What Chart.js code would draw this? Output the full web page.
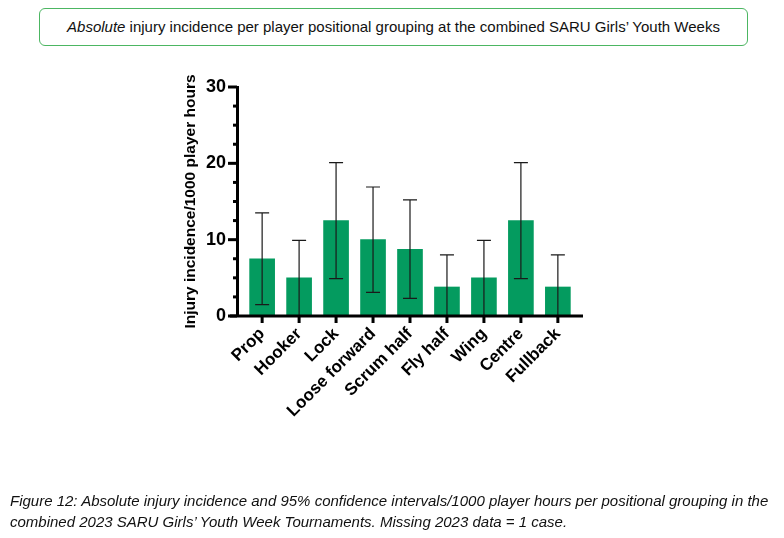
<!DOCTYPE html>
<html>
<head>
    <style>
        body, html {
            margin: 0;
            width: 784px;
            height: 538px;
            background: #fff;
            overflow: hidden;
        }
        #title {
            position: absolute;
            left: 39px;
            top: 8px;
            width: 707px;
            height: 36px;
            border: 1.5px solid #4cb662;
            border-radius: 6px;
            font-family: "Liberation Sans", Arial, sans-serif;
            font-size: 15px;
            line-height: 36px;
            text-align: center;
            color: #111;
        }
        #caption {
            position: absolute;
            left: 10px;
            top: 490px;
            font-family: "Liberation Sans", Arial, sans-serif;
            font-style: italic;
            font-size: 15px;
            line-height: 21px;
            color: #111;
            white-space: nowrap;
        }
        #chart {
            position: absolute;
            left: 0;
            top: 0;
        }
    </style>
    <script src="https://cdn.jsdelivr.net/npm/chart.js"></script>
</head>
<body>
    <div id="title"><i>Absolute</i> injury incidence per player positional grouping at the combined SARU Girls’ Youth Weeks</div>
    <canvas id="chart" width="784" height="538"></canvas>
    <div id="caption">Figure 12: Absolute injury incidence and 95% confidence intervals/1000 player hours per positional grouping in the<br>combined 2023 SARU Girls’ Youth Week Tournaments. Missing 2023 data = 1 case.</div>

    <script>
        const positions = ["Prop", "Hooker", "Lock", "Loose forward", "Scrum half", "Fly half", "Wing", "Centre", "Fullback"];
        const incidence = [7.5, 5.0, 12.5, 10.0, 8.75, 3.8, 5.0, 12.5, 3.8];
        const ciLower = [1.5, 0, 4.9, 3.1, 2.3, 0, 0, 4.9, 0];
        const ciUpper = [13.5, 9.9, 20.1, 16.9, 15.2, 8.0, 9.9, 20.1, 8.0];
        const yMajorTicks = [0, 10, 20, 30];

        const font = "Liberation Sans, Arial, sans-serif";

        // error bars + axis tick marks drawn with the chart's scales
        const extras = {
            id: "extras",
            afterDatasetsDraw(chart) {
                const ctx = chart.ctx;
                const x = chart.scales.x;
                const y = chart.scales.y;
                const meta = chart.getDatasetMeta(0);
                ctx.save();
                ctx.strokeStyle = "#1a1a1a";
                ctx.lineWidth = 1.2;
                meta.data.forEach((bar, i) => {
                    const cx = bar.x;
                    const yHi = y.getPixelForValue(ciUpper[i]);
                    const yLo = y.getPixelForValue(ciLower[i]);
                    ctx.beginPath();
                    ctx.moveTo(cx, yLo);
                    ctx.lineTo(cx, yHi);
                    ctx.moveTo(cx - 7, yHi);
                    ctx.lineTo(cx + 7, yHi);
                    if (ciLower[i] > 0) {
                        ctx.moveTo(cx - 7, yLo);
                        ctx.lineTo(cx + 7, yLo);
                    }
                    ctx.stroke();
                });

                // y ticks: major every 10, minor every 2.5
                ctx.strokeStyle = "#000";
                ctx.lineWidth = 3;
                const left = y.right;
                for (let v = 0; v <= 30; v += 2.5) {
                    const py = y.getPixelForValue(v);
                    const len = yMajorTicks.includes(v) ? 9 : 4;
                    ctx.beginPath();
                    ctx.moveTo(left - len, py);
                    ctx.lineTo(left, py);
                    ctx.stroke();
                }
                // x ticks under each category
                const bottom = x.top;
                positions.forEach((p, i) => {
                    const px = x.getPixelForValue(i);
                    ctx.beginPath();
                    ctx.moveTo(px, bottom);
                    ctx.lineTo(px, bottom + 7);
                    ctx.stroke();
                });
                // x axis line, running a little past the y axis
                ctx.beginPath();
                ctx.moveTo(left - 7, bottom);
                ctx.lineTo(x.right, bottom);
                ctx.stroke();
                ctx.restore();
            }
        };

        new Chart(document.getElementById("chart"), {
            type: "bar",
            data: {
                datasets: [{
                    data: incidence.map((v, i) => ({ x: i, y: v })),
                    backgroundColor: "#049b5f",
                    borderWidth: 0,
                    barThickness: 25
                }]
            },
            options: {
                responsive: false,
                animation: false,
                devicePixelRatio: 1,
                layout: { padding: { left: 181, right: 201, top: 87, bottom: 102 } },
                plugins: { legend: { display: false }, tooltip: { enabled: false } },
                scales: {
                    x: {
                        type: "linear",
                        offset: false,
                        min: -0.68,
                        max: 8.68,
                        afterBuildTicks: (s) => { s.ticks = positions.map((p, i) => ({ value: i })); },
                        afterFit: (s) => { s.height = 120; },
                        grid: { display: false, drawTicks: false },
                        border: { display: false },
                        ticks: {
                            autoSkip: false,
                            minRotation: 45,
                            maxRotation: 45,
                            padding: 8,
                            color: "#000",
                            font: { family: font, size: 17, weight: "bold" },
                            callback: (v) => positions[v]
                        }
                    },
                    y: {
                        min: 0,
                        max: 30,
                        afterBuildTicks: (s) => { s.ticks = yMajorTicks.map(v => ({ value: v })); },
                        afterFit: (s) => { s.width = 56; },
                        grid: { display: false, drawTicks: false },
                        border: { display: true, color: "#000", width: 3 },
                        ticks: {
                            padding: 11,
                            color: "#000",
                            font: { family: font, size: 18, weight: "bold" }
                        },
                        title: {
                            display: true,
                            text: "Injury incidence/1000 player hours",
                            color: "#000",
                            padding: { top: 0, bottom: 2 },
                            font: { family: font, size: 15.5, weight: "bold" }
                        }
                    }
                }
            },
            plugins: [extras]
        });
    </script>
</body>
</html>
